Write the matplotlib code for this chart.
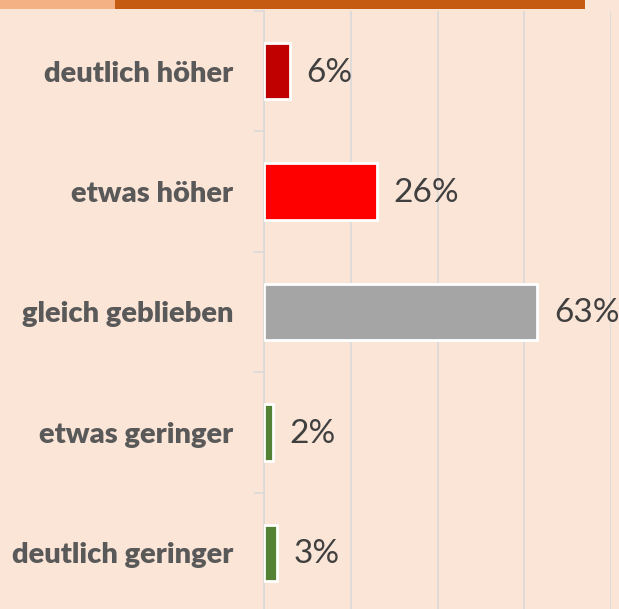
import matplotlib
matplotlib.use('Agg')
import matplotlib.pyplot as plt
from matplotlib.patches import Rectangle

# data
categories = ['deutlich höher', 'etwas höher', 'gleich geblieben', 'etwas geringer', 'deutlich geringer']
values = [6, 26, 63, 2, 3]
colors = ['#C00000', '#FF0000', '#A5A5A5', '#548235', '#548235']

bg = '#FBE5D6'
fig = plt.figure(figsize=(6.19, 6.09), dpi=100, facecolor=bg)
W, H = 619, 609

# top strip
fig.patches.append(Rectangle((0, 1 - 9 / H), 115 / W, 9 / H, transform=fig.transFigure,
                             facecolor='#F4B183', edgecolor='none'))
fig.patches.append(Rectangle((115 / W, 1 - 9 / H), 470 / W, 9 / H, transform=fig.transFigure,
                             facecolor='#C55A11', edgecolor='none'))

ax = fig.add_axes([264 / W, (H - 613) / H, 347 / W, 602 / H])
ax.set_facecolor(bg)

ypos = list(range(len(categories)))
ax.barh(ypos, values, height=0.47, color=colors, edgecolor='white', linewidth=2.0, zorder=3)

for y, v in zip(ypos, values):
    ax.annotate(f'{v}%', (v, y), xytext=(12, -1), textcoords='offset points',
                ha='left', va='center', fontsize=24, family='Lato', color='#404040')

ax.set_xlim(0, 80)
ax.set_ylim(4.5, -0.5)
ax.set_xticks([0, 20, 40, 60, 80])
ax.tick_params(axis='x', length=0, labelbottom=False)
ax.grid(axis='x', color='#D9D9D9', linewidth=1.2, zorder=0)

ax.set_yticks(ypos)
ax.set_yticklabels(categories, fontsize=21, fontweight='heavy', family='Lato', color='#595959')
ax.tick_params(axis='y', which='major', length=0, pad=22)
ax.set_yticks([-0.5, 0.5, 1.5, 2.5, 3.5, 4.5], minor=True)
ax.tick_params(axis='y', which='minor', length=7, width=1.2, color='#D9D9D9', direction='out')

for s in ['top', 'right', 'bottom']:
    ax.spines[s].set_visible(False)
ax.spines['left'].set_color('#D9D9D9')
ax.spines['left'].set_linewidth(1.2)

fig.savefig('out.png', dpi=100, facecolor=bg)
